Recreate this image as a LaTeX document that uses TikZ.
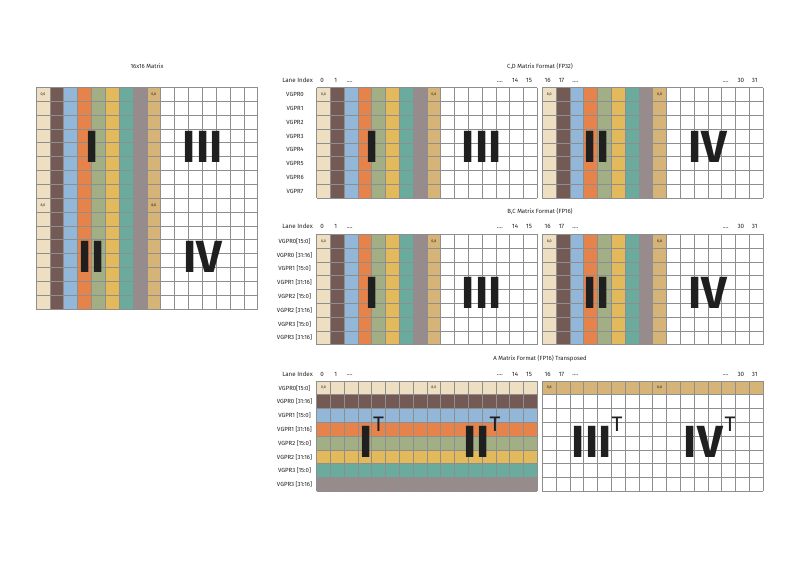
\documentclass[tikz,border=0pt]{standalone}
\usepackage{fontspec}
\setmainfont{Fira Sans}
\definecolor{c0}{HTML}{EEDFC3}
\definecolor{c1}{HTML}{735A54}
\definecolor{c2}{HTML}{93B7D9}
\definecolor{c3}{HTML}{E5834B}
\definecolor{c4}{HTML}{A2AE83}
\definecolor{c5}{HTML}{E2B95B}
\definecolor{c6}{HTML}{6AAB9E}
\definecolor{c7}{HTML}{978B8B}
\definecolor{c8}{HTML}{D6B377}
\definecolor{gridc}{HTML}{8E8E8E}
\definecolor{txt}{HTML}{222222}
\newcommand\colpanel[4]{%
  \foreach \c in {0,...,8} {\fill[fill=c\c] ({#1+\c*#4},#2) rectangle ({#1+(\c+1)*#4},{#2+#3*#4});}
  \foreach \i in {0,...,16} {\draw[gridl] ({#1+\i*#4},#2) -- ++(0,{#3*#4});}
  \foreach \j in {0,...,#3} {\draw[gridl] (#1,{#2+\j*#4}) -- ++({16*#4},0);}
}
\newcommand\rowpanel[3]{% x0 y0 s ; rows colored
  \foreach \c in {0,...,7} {\fill[fill=c\c] (#1,{#2+\c*#3}) rectangle ({#1+16*#3},{#2+(\c+1)*#3});}
  \foreach \i in {0,...,16} {\draw[gridl] ({#1+\i*#3},#2) -- ++(0,{8*#3});}
  \foreach \j in {0,...,8} {\draw[gridl] (#1,{#2+\j*#3}) -- ++({16*#3},0);}
}
\newcommand\toppanel[3]{% x0 y0 s ; only first row colored tan
  \fill[fill=c8] (#1,#2) rectangle ({#1+16*#3},{#2+#3});
  \foreach \i in {0,...,16} {\draw[gridl] ({#1+\i*#3},#2) -- ++(0,{8*#3});}
  \foreach \j in {0,...,8} {\draw[gridl] (#1,{#2+\j*#3}) -- ++({16*#3},0);}
}
\newcommand\laneidx[4]{% x0 y s first-label-set(0=left,1=right)
  \ifnum#4=0
    \node[lane] at ({#1+0.5*#3-1.5},#2) {0};
    \node[lane] at ({#1+1.5*#3-1.5},#2) {1};
    \node[lane] at ({#1+14.5*#3-1.5},#2) {14};
    \node[lane] at ({#1+15.5*#3-1.5},#2) {15};
  \else
    \node[lane] at ({#1+0.5*#3-1.5},#2) {16};
    \node[lane] at ({#1+1.5*#3-1.5},#2) {17};
    \node[lane] at ({#1+14.5*#3-1.5},#2) {30};
    \node[lane] at ({#1+15.5*#3-1.5},#2) {31};
  \fi
  \node[lane] at ({#1+2.5*#3-1.5},{#2+1}) {....};
  \node[lane] at ({#1+13.5*#3-3},{#2+1}) {....};
}
\begin{document}
\begin{tikzpicture}[x=1pt,y=-1pt,
  gridl/.style={draw=gridc,line width=0.7pt},
  lane/.style={font=\fontsize{6.2}{7}\selectfont,text=txt,inner sep=0pt},
  vg/.style={font=\fontsize{6}{7}\selectfont,text=txt,inner sep=0pt},
  ttl/.style={font=\fontsize{6}{7}\selectfont,text=txt,inner sep=0pt},
  cl/.style={font=\fontsize{3.6}{4}\selectfont,text=txt,inner sep=0pt},
  rom/.style={font=\bfseries\fontsize{45}{45}\selectfont,text=black!88,inner sep=0pt},
  sup/.style={font=\fontsize{21}{21}\selectfont,text=black!88,inner sep=0pt}]
\useasboundingbox (0,0) rectangle (800,560);
\fill[white] (0,0) rectangle (800,560);

% ---------- 16x16 matrix ----------
\node[ttl] (t16) at (147,66) {16x16 Matrix};
\def\ms{13.86}
\colpanel{36}{87.3}{16}{\ms}
\node[cl] (m00) at ({36+0.5*\ms},{87.3+0.5*\ms}) {0,0};
\node[cl] (m08) at ({36+8.5*\ms},{87.3+0.5*\ms}) {0,8};
\node[cl] (m80) at ({36+0.5*\ms},{87.3+8.5*\ms}) {8,0};
\node[cl] (m88) at ({36+8.5*\ms},{87.3+8.5*\ms}) {8,8};
\node[rom] (mI) at (91.7,146.5) {I};
\node[rom] (mIII) at (202.7,146.5) {III};
\node[rom] (mII) at (91.7,256.7) {II};
\node[rom] (mIV) at (202.7,257) {IV};

\def\s{13.8}
\def\xl{316.6}
\def\xr{542.3}
% ---------- C,D ----------
\node[ttl] (tcd) at (540,66) {C,D Matrix Format (FP32)};
\node[lane,anchor=east] (lcd) at (313,80.7) {Lane Index};
\laneidx{\xl}{80.7}{\s}{0}
\laneidx{\xr}{80.7}{\s}{1}
\colpanel{\xl}{87.7}{8}{\s}
\colpanel{\xr}{87.7}{8}{\s}
\foreach \r in {0,...,7} {\node[vg] (cdv\r) at (295,{87.7+(\r+0.5)*\s}) {VGPR\r};}
\node[cl] (cd1) at ({\xl+0.5*\s},{87.7+0.5*\s}) {0,0};
\node[cl] (cd2) at ({\xl+8.5*\s},{87.7+0.5*\s}) {0,8};
\node[cl] (cd3) at ({\xr+0.5*\s},{87.7+0.5*\s}) {8,0};
\node[cl] (cd4) at ({\xr+8.5*\s},{87.7+0.5*\s}) {8,8};
\node[rom] (cdI) at (371.7,147) {I};
\node[rom] (cdIII) at (481.7,147) {III};
\node[rom] (cdII) at (596.7,147) {II};
\node[rom] (cdIV) at (708,147) {IV};

% ---------- B,C ----------
\node[ttl] (tbc) at (540,211.7) {B,C Matrix Format (FP16)};
\node[lane,anchor=east] (lbc) at (313,226.7) {Lane Index};
\laneidx{\xl}{226.7}{\s}{0}
\laneidx{\xr}{226.7}{\s}{1}
\colpanel{\xl}{234.3}{8}{\s}
\colpanel{\xr}{234.3}{8}{\s}
\node[vg] (bcv0) at (294.5,{234.3+0.5*\s}) {VGPR0[15:0]};
\node[vg] (bcv1) at (294.5,{234.3+1.5*\s}) {VGPR0 [31:16]};
\node[vg] (bcv2) at (294.5,{234.3+2.5*\s}) {VGPR1 [15:0]};
\node[vg] (bcv3) at (294.5,{234.3+3.5*\s}) {VGPR1 [31:16]};
\node[vg] (bcv4) at (294.5,{234.3+4.5*\s}) {VGPR2 [15:0]};
\node[vg] (bcv5) at (294.5,{234.3+5.5*\s}) {VGPR2 [31:16]};
\node[vg] (bcv6) at (294.5,{234.3+6.5*\s}) {VGPR3 [15:0]};
\node[vg] (bcv7) at (294.5,{234.3+7.5*\s}) {VGPR3 [31:16]};
\node[cl] (bc1) at ({\xl+0.5*\s},{234.3+0.5*\s}) {0,0};
\node[cl] (bc2) at ({\xl+8.5*\s},{234.3+0.5*\s}) {0,8};
\node[cl] (bc3) at ({\xr+0.5*\s},{234.3+0.5*\s}) {8,0};
\node[cl] (bc4) at ({\xr+8.5*\s},{234.3+0.5*\s}) {8,8};
\node[rom] (bcI) at (371.7,293) {I};
\node[rom] (bcIII) at (481.7,293) {III};
\node[rom] (bcII) at (596.7,293) {II};
\node[rom] (bcIV) at (708,293) {IV};

% ---------- A ----------
\node[ttl] (ta) at (540,358.3) {A Matrix Format (FP16) Transposed};
\node[lane,anchor=east] (la) at (313,374.3) {Lane Index};
\laneidx{\xl}{374.3}{\s}{0}
\laneidx{\xr}{374.3}{\s}{1}
\rowpanel{\xl}{381}{\s}
\toppanel{\xr}{381}{\s}
\node[vg] (av0) at (294.5,{381+0.5*\s}) {VGPR0[15:0]};
\node[vg] (av1) at (294.5,{381+1.5*\s}) {VGPR0 [31:16]};
\node[vg] (av2) at (294.5,{381+2.5*\s}) {VGPR1 [15:0]};
\node[vg] (av3) at (294.5,{381+3.5*\s}) {VGPR1 [31:16]};
\node[vg] (av4) at (294.5,{381+4.5*\s}) {VGPR2 [15:0]};
\node[vg] (av5) at (294.5,{381+5.5*\s}) {VGPR2 [31:16]};
\node[vg] (av6) at (294.5,{381+6.5*\s}) {VGPR3 [15:0]};
\node[vg] (av7) at (294.5,{381+7.5*\s}) {VGPR3 [31:16]};
\node[cl] (a1) at ({\xl+0.5*\s},{381+0.5*\s}) {0,0};
\node[cl] (a2) at ({\xl+8.5*\s},{381+0.5*\s}) {8,0};
\node[cl] (a3) at ({\xr+0.5*\s},{381+0.5*\s}) {0,8};
\node[cl] (a4) at ({\xr+8.5*\s},{381+0.5*\s}) {8,8};
\node[rom] (aI) at (365.7,442.3) {I};
\node[sup] (aIT) at (378.5,424) {T};
\node[rom] (aII) at (476.7,442.3) {II};
\node[sup] (aIIT) at (495,424) {T};
\node[rom] (aIII) at (591.7,442.3) {III};
\node[sup] (aIIIT) at (617,424) {T};
\node[rom] (aIV) at (703.3,442.3) {IV};
\node[sup] (aIVT) at (730,424) {T};
\end{tikzpicture}
\end{document}
